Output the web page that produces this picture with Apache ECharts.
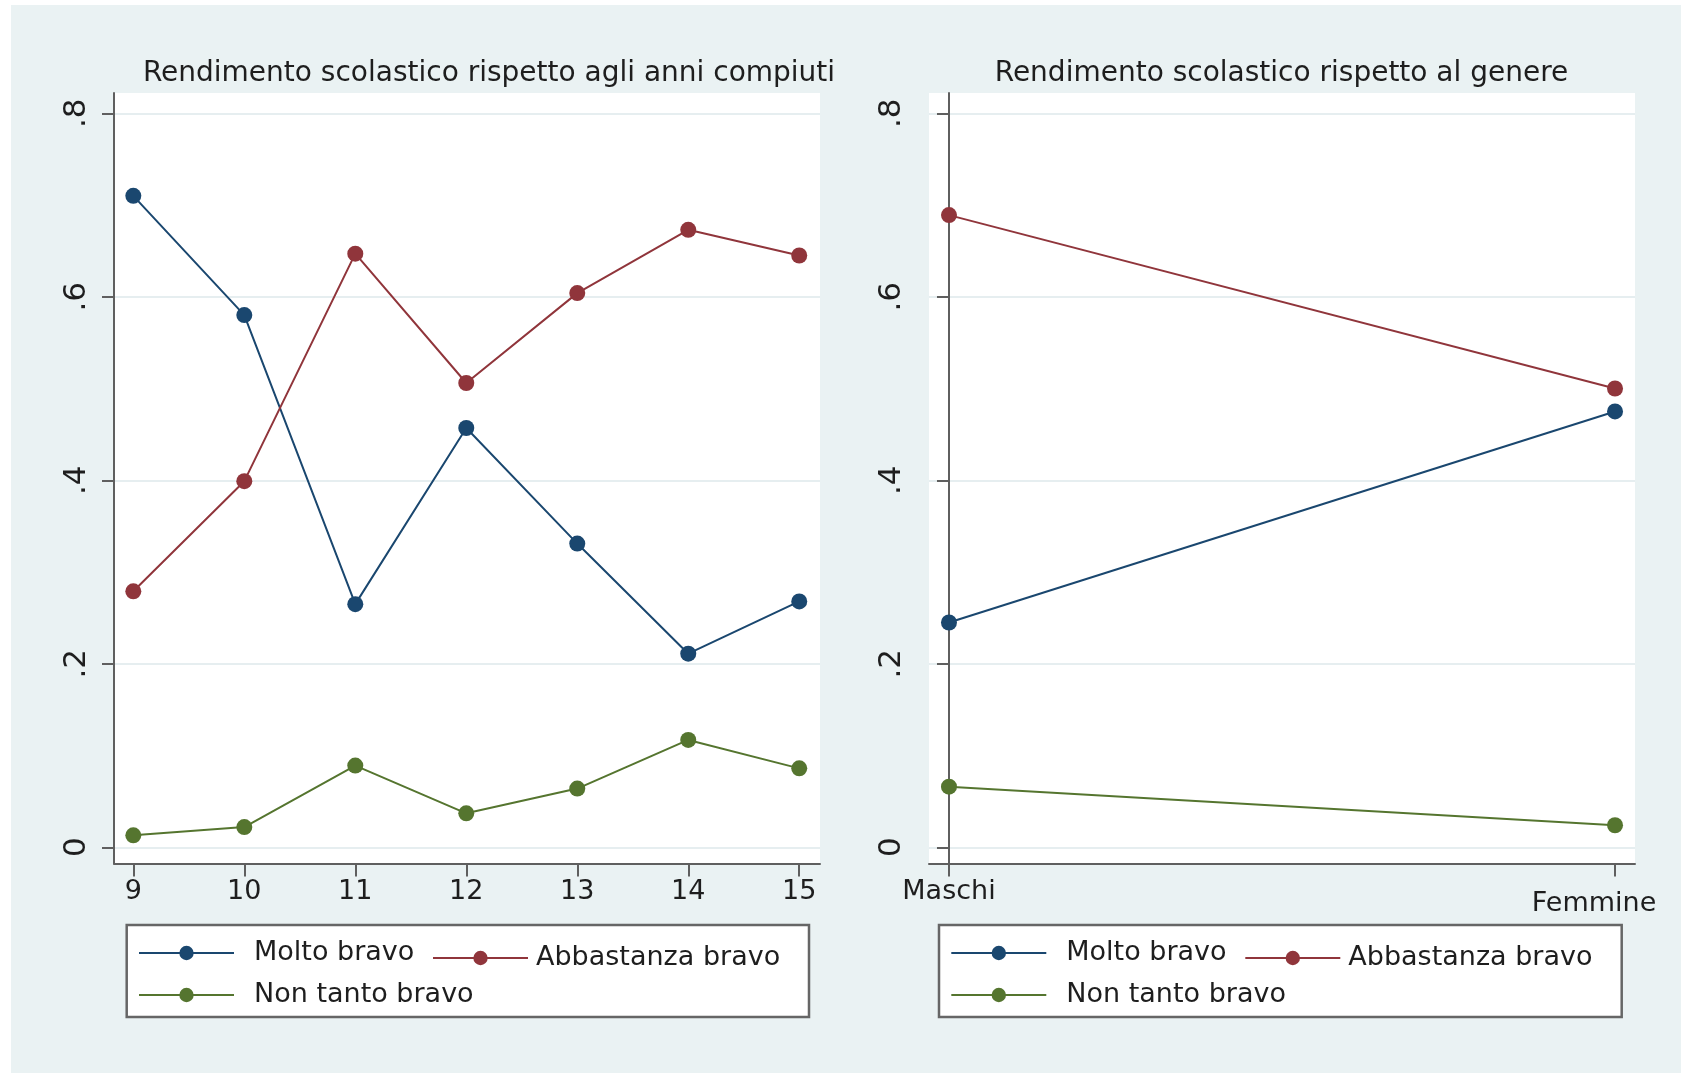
<!DOCTYPE html>
<html><head><meta charset="utf-8">
<script src="https://cdn.jsdelivr.net/npm/echarts@6/dist/echarts.min.js"></script>
<style>
html,body{margin:0;padding:0;background:#fff;}
#bg{position:absolute;left:11px;top:5px;width:1670px;height:1068px;background:#EAF2F3;}
#chart{position:absolute;left:0;top:0;width:1681px;height:1074px;}
</style></head><body>
<div id="bg"></div><div id="chart"></div>
<script>
const ageCategories = [9, 10, 11, 12, 13, 14, 15];
const ageMolto = [0.710, 0.580, 0.265, 0.457, 0.331, 0.211, 0.268];
const ageAbbastanza = [0.279, 0.399, 0.647, 0.506, 0.604, 0.673, 0.645];
const ageNonTanto = [0.013, 0.022, 0.089, 0.037, 0.064, 0.117, 0.086];

const genderCategories = ['Maschi', 'Femmine'];
const genderPositions = [0, 1];
const genderMolto = [0.245, 0.475];
const genderAbbastanza = [0.689, 0.500];
const genderNonTanto = [0.066, 0.024];

const yTickValues = [0, 0.2, 0.4, 0.6, 0.8];
const yTickLabels = ['0', '.2', '.4', '.6', '.8'];
const seriesNames = ['Molto bravo', 'Abbastanza bravo', 'Non tanto bravo'];
const titles = ['Rendimento scolastico rispetto agli anni compiuti', 'Rendimento scolastico rispetto al genere'];

const FONT = 'DejaVu Sans';
const colors = ['#1A476F', '#90353B', '#55752F'];
const textColor = '#1e1e1e';
const axisColor = '#5f5f5f';
const gridColor = '#e6eef0';

const chart = echarts.init(document.getElementById('chart'), null, {renderer: 'canvas'});

function pairs(xs, ys) { return xs.map((x, i) => [x, ys[i]]); }

function yAxisCfg(gridIndex) {
  return {
    type: 'value', gridIndex: gridIndex, min: -0.0177, max: 0.8221,
    axisLine: {show: true, lineStyle: {color: axisColor, width: 2}},
    axisTick: {show: true, length: 12, customValues: yTickValues, lineStyle: {color: axisColor, width: 2}},
    axisLabel: {
      customValues: yTickValues, rotate: 90, margin: 22,
      fontFamily: FONT, fontSize: 31, color: textColor,
      formatter: function (v) { const i = yTickValues.findIndex(t => Math.abs(t - v) < 1e-6); return i >= 0 ? yTickLabels[i] : ''; }
    },
    splitLine: {show: true, lineStyle: {color: gridColor, width: 2}}
  };
}

const lineSeries = [];
const ageData = [ageMolto, ageAbbastanza, ageNonTanto];
const genderData = [genderMolto, genderAbbastanza, genderNonTanto];
seriesNames.forEach((name, k) => {
  lineSeries.push({
    name: name, type: 'line', xAxisIndex: 0, yAxisIndex: 0,
    data: pairs(ageCategories, ageData[k]),
    symbol: 'circle', symbolSize: 16, showSymbol: true,
    lineStyle: {color: colors[k], width: 2},
    itemStyle: {color: colors[k]},
    emphasis: {disabled: true}, animation: false, z: 3
  });
  lineSeries.push({
    name: name, type: 'line', xAxisIndex: 1, yAxisIndex: 1,
    data: pairs(genderPositions, genderData[k]),
    symbol: 'circle', symbolSize: 16, showSymbol: true,
    lineStyle: {color: colors[k], width: 2},
    itemStyle: {color: colors[k]},
    emphasis: {disabled: true}, animation: false, z: 3
  });
});

function legendCfg(name, left, top, gap) {
  return {
    data: [name], left: left, top: top, padding: 0, orient: 'horizontal',
    itemWidth: 95, itemHeight: 18, selectedMode: false,
    textStyle: {fontFamily: FONT, fontSize: 27, color: textColor, lineHeight: 30, padding: [0, 0, 0, gap]}
  };
}
const legendShift = 812.3;
const legends = [];
[0, legendShift].forEach(dx => {
  legends.push(legendCfg(seriesNames[0], 138 + dx, 938, 15));
  legends.push(legendCfg(seriesNames[1], 432 + dx, 943, 3));
  legends.push(legendCfg(seriesNames[2], 138 + dx, 980, 15));
});

const option = {
  backgroundColor: 'transparent',
  animation: false,
  title: [
    {text: titles[0], left: 489, top: 58, textAlign: 'center', padding: 0,
     textStyle: {fontFamily: FONT, fontSize: 28, fontWeight: 'normal', color: textColor, lineHeight: 32}},
    {text: titles[1], left: 1281.5, top: 58, textAlign: 'center', padding: 0,
     textStyle: {fontFamily: FONT, fontSize: 28, fontWeight: 'normal', color: textColor, lineHeight: 32}}
  ],
  grid: [
    {left: 114, top: 93, width: 706, height: 770.5, show: true, backgroundColor: '#ffffff', borderWidth: 0},
    {left: 929, top: 93, width: 706, height: 770.5, show: true, backgroundColor: '#ffffff', borderWidth: 0}
  ],
  xAxis: [
    {
      type: 'value', gridIndex: 0, min: 8.826, max: 15.187,
      axisLine: {show: true, onZero: false, lineStyle: {color: axisColor, width: 2}},
      axisTick: {show: true, length: 13, customValues: ageCategories, lineStyle: {color: axisColor, width: 2}},
      axisLabel: {customValues: ageCategories, margin: 15, fontFamily: FONT, fontSize: 27, color: textColor},
      splitLine: {show: false}
    },
    {
      type: 'value', gridIndex: 1, min: -0.030, max: 1.030,
      axisLine: {show: true, onZero: false, lineStyle: {color: axisColor, width: 2}},
      axisTick: {show: true, length: 13, customValues: genderPositions, lineStyle: {color: axisColor, width: 2}},
      axisLabel: {
        customValues: genderPositions, margin: 15, fontFamily: FONT, fontSize: 27, color: textColor,
        formatter: function (v) { return v < 0.5 ? '{a|' + genderCategories[0] + '}' : '{b|' + genderCategories[1] + '}'; },
        rich: {
          a: {fontFamily: FONT, fontSize: 27, color: textColor},
          b: {fontFamily: FONT, fontSize: 27, color: textColor, padding: [12, 42, 0, 0]}
        }
      },
      splitLine: {show: false}
    }
  ],
  yAxis: [yAxisCfg(0), yAxisCfg(1)],
  legend: legends,
  graphic: [
    {type: 'rect', z: 1, shape: {x: 126.7, y: 925, width: 682.3, height: 92}, style: {fill: '#ffffff', stroke: '#666666', lineWidth: 2.5}},
    {type: 'rect', z: 1, shape: {x: 939, y: 925, width: 682.7, height: 92}, style: {fill: '#ffffff', stroke: '#666666', lineWidth: 2.5}}
  ],
  series: lineSeries
};
chart.setOption(option);
</script>
</body></html>
